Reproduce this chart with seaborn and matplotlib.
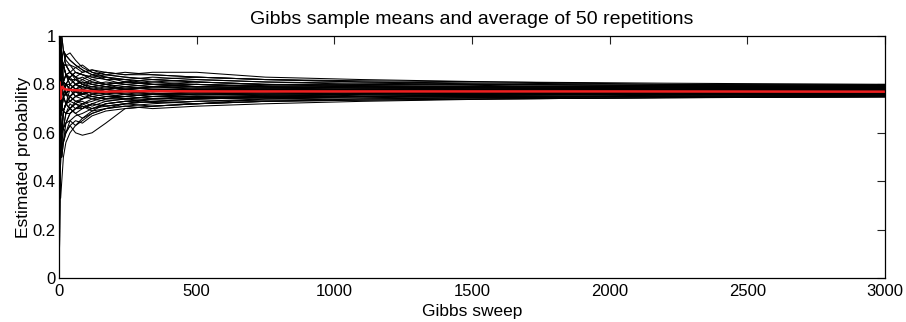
import numpy as np
import pandas as pd
import matplotlib
matplotlib.use("Agg")
import matplotlib.pyplot as plt
import seaborn as sns
from matplotlib.ticker import FuncFormatter

# ---- data ----
sweeps = [1, 3, 6, 10, 16, 25, 40, 60, 85, 120, 170, 240, 340, 500, 750, 1100, 1600, 2200, 3000]

run_01 = [1, 1, .83, .8, .81, .84, .85, .83, .82, .84, .85, .84, .85, .85, .83, .82, .81, .80, .795]
run_02 = [1, .67, .67, .7, .69, .72, .7, .68, .7, .72, .71, .72, .73, .72, .73, .74, .745, .75, .755]
run_03 = [0, .33, .5, .6, .62, .6, .63, .6, .59, .6, .64, .7, .71, .72, .74, .75, .76, .765, .77]
run_04 = [1, 1, 1, .9, .88, .84, .8, .82, .8, .79, .78, .79, .8, .79, .785, .78, .785, .78, .78]
run_05 = [1, .67, .83, .8, .75, .76, .78, .77, .76, .75, .76, .77, .76, .765, .77, .775, .77, .768, .77]
run_06 = [1, 1, .83, .9, .94, .92, .9, .88, .86, .84, .82, .8, .79, .8, .79, .785, .79, .79, .785]
run_07 = [0, .67, .67, .6, .69, .72, .75, .73, .74, .76, .75, .74, .75, .76, .755, .76, .765, .76, .76]
run_08 = [1, 1, .83, .8, .81, .8, .83, .85, .84, .82, .83, .81, .8, .81, .8, .79, .79, .785, .785]
run_09 = [1, .67, .5, .6, .62, .64, .68, .7, .72, .7, .72, .73, .74, .745, .75, .755, .76, .755, .755]
run_10 = [1, 1, .83, .8, .81, .76, .78, .8, .78, .79, .8, .81, .82, .81, .8, .8, .795, .79, .79]
run_11 = [1, .67, .67, .7, .75, .8, .78, .75, .76, .77, .78, .77, .76, .755, .76, .765, .77, .775, .775]
run_12 = [1, 1, 1, 1, .94, .88, .85, .83, .85, .86, .84, .83, .82, .81, .8, .795, .79, .79, .79]
run_13 = [0, .33, .5, .6, .69, .68, .7, .72, .71, .69, .7, .72, .71, .72, .73, .735, .74, .745, .75]
run_14 = [1, .67, .83, .7, .75, .72, .73, .75, .77, .78, .77, .76, .77, .78, .775, .77, .765, .77, .765]
run_15 = [1, 1, .83, .9, .88, .88, .85, .82, .8, .79, .8, .78, .79, .78, .77, .775, .78, .78, .78]
run_16 = [1, .67, .5, .5, .56, .6, .65, .67, .68, .7, .71, .72, .73, .74, .745, .75, .75, .755, .76]
run_17 = [1, 1, 1, .9, .81, .8, .78, .8, .81, .8, .79, .8, .81, .82, .81, .8, .8, .795, .79]
run_18 = [1, .67, .67, .8, .81, .76, .75, .73, .72, .74, .73, .74, .75, .75, .755, .76, .76, .765, .765]
run_19 = [0, .67, .83, .8, .75, .72, .7, .72, .74, .75, .74, .75, .76, .77, .765, .77, .775, .77, .772]
run_20 = [1, 1, .83, .8, .88, .92, .93, .9, .87, .85, .84, .83, .82, .83, .82, .81, .805, .8, .8]
run_21 = [1, .67, .67, .6, .62, .68, .72, .7, .72, .73, .75, .76, .75, .74, .75, .76, .765, .77, .77]
run_22 = [1, 1, .83, .7, .69, .72, .75, .78, .8, .78, .77, .78, .79, .785, .78, .775, .77, .77, .775]
run_23 = [1, .33, .5, .6, .69, .72, .7, .68, .66, .68, .7, .71, .72, .73, .735, .74, .745, .75, .75]
run_24 = [1, 1, 1, .9, .88, .84, .83, .85, .84, .83, .82, .82, .8, .79, .785, .79, .785, .78, .785]
run_25 = [1, .67, .83, .8, .81, .8, .78, .77, .78, .77, .76, .77, .78, .775, .77, .77, .772, .775, .775]
run_26 = [0, .33, .33, .4, .5, .56, .6, .63, .65, .68, .7, .71, .7, .71, .72, .73, .74, .745, .748]
run_27 = [1, 1, .83, .9, .94, .9, .88, .87, .85, .86, .85, .84, .84, .83, .82, .815, .81, .805, .8]
run_28 = [1, .67, .67, .7, .75, .76, .73, .75, .74, .76, .77, .76, .75, .76, .765, .77, .765, .76, .765]
run_29 = [1, 1, .83, .8, .75, .76, .8, .78, .79, .81, .8, .79, .78, .78, .785, .78, .78, .785, .782]
run_30 = [1, .67, .5, .6, .62, .64, .65, .63, .66, .69, .72, .73, .74, .745, .75, .75, .755, .76, .76]
run_31 = [1, 1, 1, .9, .88, .84, .85, .83, .8, .82, .8, .81, .8, .8, .79, .79, .785, .785, .78]
run_32 = [1, .67, .67, .8, .75, .72, .75, .77, .75, .74, .75, .75, .76, .765, .76, .765, .77, .768, .768]
run_33 = [0, .67, .67, .7, .75, .8, .83, .8, .79, .78, .77, .78, .77, .775, .78, .775, .775, .78, .778]
run_34 = [1, 1, .83, .9, .81, .84, .82, .8, .82, .8, .81, .8, .79, .79, .8, .795, .79, .788, .785]
run_35 = [1, .67, .83, .7, .69, .68, .7, .73, .73, .71, .73, .74, .75, .75, .745, .75, .755, .76, .762]
run_36 = [1, 1, .83, .8, .88, .88, .85, .87, .88, .85, .83, .82, .81, .8, .795, .79, .79, .79, .788]
run_37 = [1, .67, .67, .6, .69, .72, .73, .72, .7, .72, .74, .75, .74, .745, .75, .76, .76, .765, .765]
run_38 = [1, 1, .83, .8, .81, .8, .8, .78, .76, .77, .78, .77, .77, .78, .78, .775, .778, .775, .773]
run_39 = [1, .67, .5, .5, .62, .68, .68, .7, .71, .7, .72, .73, .725, .73, .74, .745, .75, .75, .752]
run_40 = [1, 1, 1, 1, .94, .92, .9, .88, .86, .84, .83, .82, .83, .82, .81, .805, .8, .795, .792]
run_41 = [1, .67, .83, .8, .81, .76, .75, .77, .78, .76, .77, .78, .77, .77, .775, .77, .77, .772, .77]
run_42 = [0, .33, .5, .5, .56, .64, .68, .7, .7, .72, .71, .72, .74, .74, .745, .75, .745, .75, .755]
run_43 = [1, 1, .83, .8, .81, .84, .82, .82, .83, .81, .8, .81, .8, .79, .79, .785, .785, .78, .78]
run_44 = [1, .67, .67, .7, .69, .72, .78, .8, .79, .78, .78, .79, .78, .78, .775, .78, .775, .775, .776]
run_45 = [1, 1, .83, .9, .81, .8, .78, .75, .76, .77, .76, .75, .76, .76, .76, .762, .765, .765, .766]
run_46 = [1, .67, .5, .6, .56, .6, .63, .65, .64, .67, .69, .7, .71, .72, .73, .735, .74, .745, .748]
run_47 = [1, 1, 1, .9, .88, .88, .88, .85, .84, .83, .84, .85, .84, .83, .82, .81, .8, .795, .795]
run_48 = [1, .67, .67, .7, .75, .76, .78, .77, .76, .78, .79, .78, .79, .8, .79, .785, .78, .78, .783]
run_49 = [0, .67, .83, .9, .88, .84, .8, .78, .77, .75, .74, .74, .73, .74, .745, .75, .755, .758, .76]
run_50 = [1, 1, .83, .8, .75, .76, .78, .8, .81, .8, .79, .78, .77, .77, .772, .77, .77, .772, .77]

runs = [run_01, run_02, run_03, run_04, run_05, run_06, run_07, run_08, run_09, run_10,
        run_11, run_12, run_13, run_14, run_15, run_16, run_17, run_18, run_19, run_20,
        run_21, run_22, run_23, run_24, run_25, run_26, run_27, run_28, run_29, run_30,
        run_31, run_32, run_33, run_34, run_35, run_36, run_37, run_38, run_39, run_40,
        run_41, run_42, run_43, run_44, run_45, run_46, run_47, run_48, run_49, run_50]

avg_sweeps = [1, 2, 3, 5, 8, 12, 20, 40, 80, 150, 300, 600, 1000, 2000, 3000]
avg_values = [0.80, 0.81, 0.79, 0.74, 0.78, 0.79, 0.78, 0.777, 0.775, 0.770, 0.772, 0.771, 0.771, 0.771, 0.770]

title = "Gibbs sample means and average of 50 repetitions"
xlabel = "Gibbs sweep"
ylabel = "Estimated probability"
xticks = [0, 500, 1000, 1500, 2000, 2500, 3000]
yticks = [0, 0.2, 0.4, 0.6, 0.8, 1]

# ---- build long table ----
rows = []
for i, r in enumerate(runs):
    for s, v in zip(sweeps, r):
        rows.append({"run": i, "sweep": s, "value": v})
df = pd.DataFrame(rows)
avg_df = pd.DataFrame({"sweep": avg_sweeps, "value": avg_values})

sns.set_theme(style="white")
plt.rcParams["font.family"] = ["Liberation Sans", "DejaVu Sans"]
plt.rcParams["text.color"] = "black"
plt.rcParams["axes.labelcolor"] = "black"

fig = plt.figure(figsize=(9.06, 3.22), dpi=100)
ax = fig.add_axes([59 / 906, 1 - 278 / 322, (885 - 59) / 906, (278 - 36) / 322])

sns.lineplot(data=df, x="sweep", y="value", units="run", estimator=None,
             color="black", linewidth=0.75, legend=False, ax=ax)
sns.lineplot(data=avg_df, x="sweep", y="value", color="#ee2020",
             linewidth=1.8, legend=False, ax=ax)

ax.set_xlim(0, 3000)
ax.set_ylim(0, 1)
ax.set_xticks(xticks)
ax.set_yticks(yticks)
ax.yaxis.set_major_formatter(FuncFormatter(lambda v, p: f"{v:g}"))
ax.tick_params(direction="in", length=5.8, width=0.8, color="#222222",
               labelsize=12, top=True, right=True, labelcolor="black")
ax.tick_params(axis="x", pad=4)
ax.tick_params(axis="y", pad=2.5)
for sp in ax.spines.values():
    sp.set_color("black")
    sp.set_linewidth(0.9)
    sp.set_visible(True)

ax.set_title(title, fontsize=14, pad=9, color="black")
ax.set_xlabel(xlabel, fontsize=12.5, labelpad=4, color="black")
ax.set_ylabel(ylabel, fontsize=12.5, labelpad=1, color="black")

fig.savefig("out.png", dpi=100, facecolor="white")
